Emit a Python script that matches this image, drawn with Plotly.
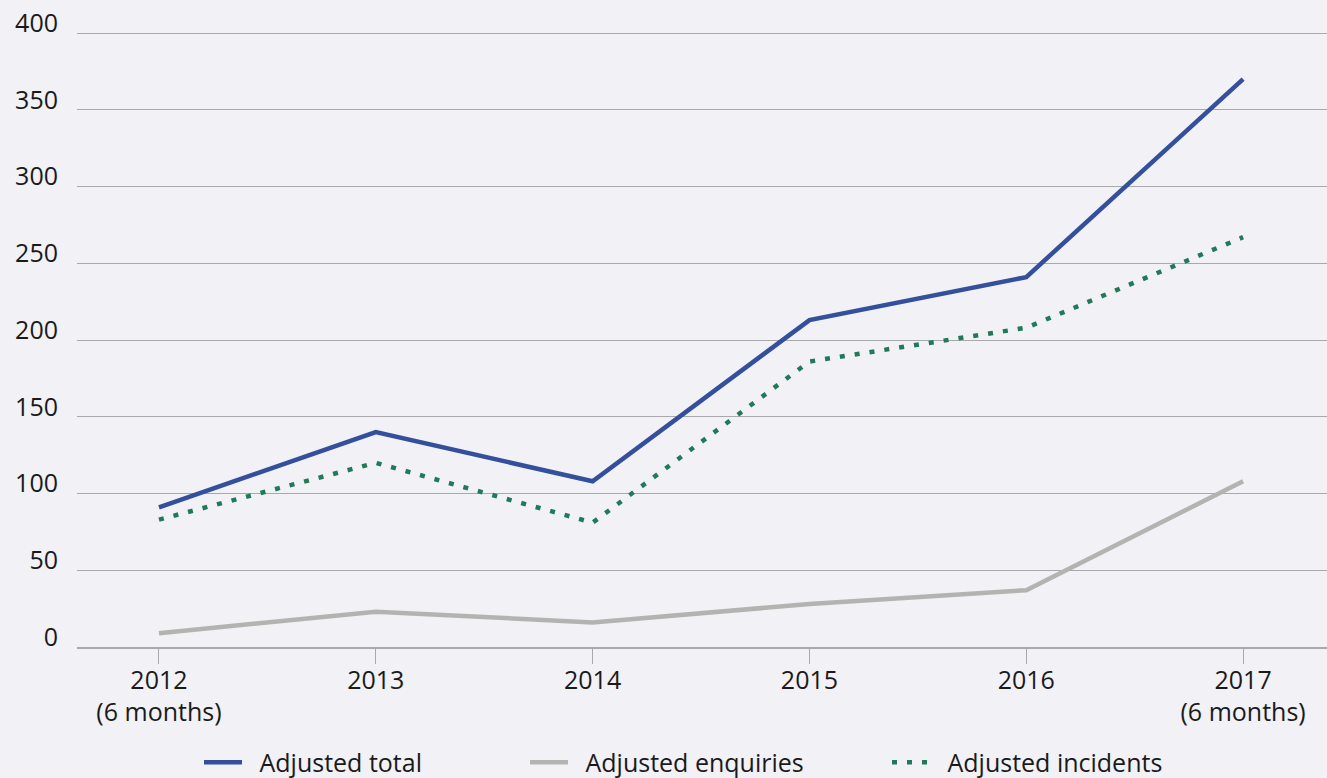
import plotly.graph_objects as go

years = ["2012", "2013", "2014", "2015", "2016", "2017"]
tick_labels = ["2012<br>(6 months)", "2013", "2014", "2015", "2016", "2017<br>(6 months)"]
adjusted_total = [91, 140, 108, 213, 241, 370]
adjusted_enquiries = [9, 23, 16, 28, 37, 108]
adjusted_incidents = [83, 120, 81, 186, 208, 267]
y_ticks = [0, 50, 100, 150, 200, 250, 300, 350, 400]
series_names = ["Adjusted total", "Adjusted enquiries", "Adjusted incidents"]

BLUE = "#34509c"
GREY = "#b3b3b1"
GREEN = "#1f7a58"
BG = "#f1f1f6"
GRID = "#a9a9ad"
TXT = "#1a1a1a"
FONT = "Open Sans"
PAD = "\u2002"  # spacing between legend sample and label

fig = go.Figure()
fig.add_trace(go.Scatter(x=years, y=adjusted_total, mode="lines", name=PAD + series_names[0],
                         line=dict(color=BLUE, width=4.5), legend="legend"))
fig.add_trace(go.Scatter(x=years, y=adjusted_enquiries, mode="lines", name=PAD + series_names[1],
                         line=dict(color=GREY, width=4.5), legend="legend2"))
fig.add_trace(go.Scatter(x=years, y=adjusted_incidents, mode="lines", name=PAD + series_names[2],
                         line=dict(color=GREEN, width=4.5, dash="5px,10px"), legend="legend3"))

legend_common = dict(orientation="h", yanchor="middle", y=-0.187, xanchor="left",
                     bgcolor="rgba(0,0,0,0)", font=dict(family=FONT, size=25, color=TXT),
                     itemwidth=38, visible=True)

fig.update_layout(
    width=1327, height=778,
    paper_bgcolor=BG, plot_bgcolor=BG,
    margin=dict(l=77, r=0, t=30, b=131, autoexpand=False),
    font=dict(family=FONT, size=25, color=TXT),
    showlegend=True,
    legend=dict(x=(199 - 77) / 1250, **legend_common),
    legend2=dict(x=(525 - 77) / 1250, **legend_common),
    legend3=dict(x=(887 - 77) / 1250, **legend_common),
    xaxis=dict(type="category", range=[-0.378, 5.387], tickmode="array",
               tickvals=years, ticktext=tick_labels,
               showgrid=False, showline=True, linecolor=GRID, linewidth=1.5,
               ticks="outside", ticklen=15, tickcolor=GRID, tickwidth=1,
               ticklabelstandoff=-5,
               tickfont=dict(family=FONT, size=25, color=TXT), zeroline=False),
    yaxis=dict(range=[0, 402], tickmode="array", tickvals=y_ticks,
               showgrid=True, gridcolor=GRID, gridwidth=1.2, zeroline=False,
               showline=False, ticks="", ticklabelstandoff=18, ticklabelshift=-10,
               tickfont=dict(family=FONT, size=25, color=TXT)),
)

fig.write_html(
    "out.html",
    config={"displayModeBar": False},
    post_script="document.body.style.margin='0';document.body.style.background='%s';" % BG,
)
